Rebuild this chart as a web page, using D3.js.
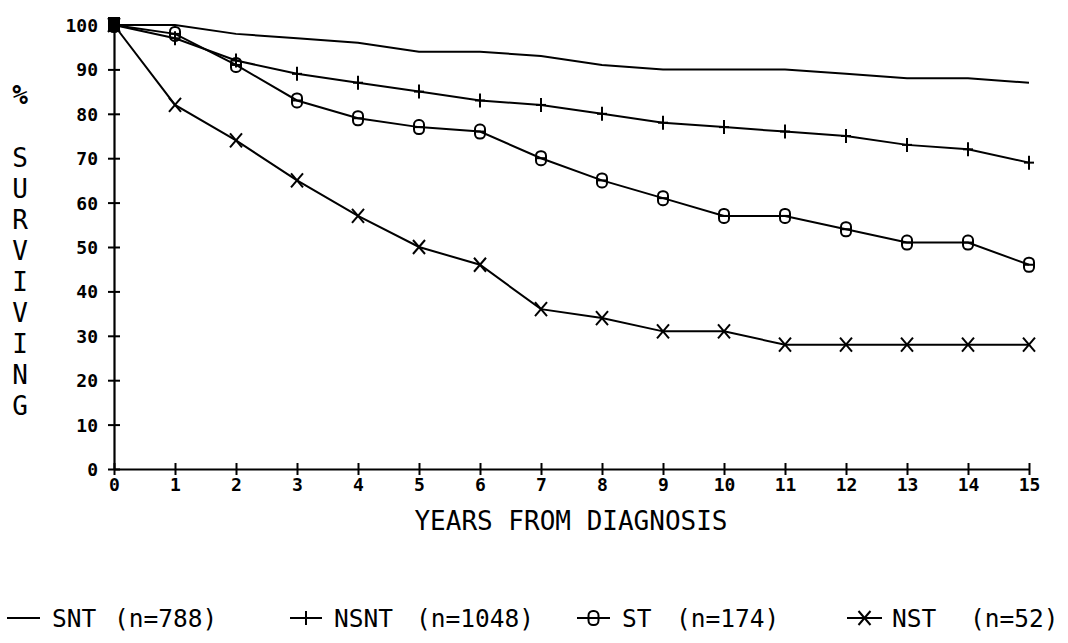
<!DOCTYPE html>
<html>
<head>
<meta charset="utf-8">
<script src="https://cdn.jsdelivr.net/npm/d3@7"></script>
<style>
  body { margin: 0; background: #fff; }
  svg { display: block; }
  .tick text { font-family: "DejaVu Sans Mono", monospace; font-weight: bold; font-size: 18px; fill: #000; }
  .lbl { font-family: "DejaVu Sans Mono", monospace; font-size: 26px; fill: #000; }
  .leg { font-family: "DejaVu Sans Mono", monospace; font-size: 24.5px; fill: #000; }
</style>
</head>
<body>
<div id="chart"></div>
<script>
// years from diagnosis
const years = [0, 1, 2, 3, 4, 5, 6, 7, 8, 9, 10, 11, 12, 13, 14, 15];
// % surviving per group
const snt  = [100, 100, 98, 97, 96, 94, 94, 93, 91, 90, 90, 90, 89, 88, 88, 87];
const nsnt = [100, 97, 92, 89, 87, 85, 83, 82, 80, 78, 77, 76, 75, 73, 72, 69];
const st   = [100, 98, 91, 83, 79, 77, 76, 70, 65, 61, 57, 57, 54, 51, 51, 46];
const nst  = [100, 82, 74, 65, 57, 50, 46, 36, 34, 31, 31, 28, 28, 28, 28, 28];
const yTicks = [0, 10, 20, 30, 40, 50, 60, 70, 80, 90, 100];
const seriesNames = ["SNT", "NSNT", "ST", "NST"];
const seriesN = ["(n=788)", "(n=1048)", "(n=174)", "(n=52)"];
const yLetters = ["S", "U", "R", "V", "I", "V", "I", "N", "G"];

const w = 1068, h = 643;
const svg = d3.select("#chart").append("svg").attr("width", w).attr("height", h);

const x = d3.scaleLinear().domain([0, 15]).range([114, 1029]);
const y = d3.scaleLinear().domain([0, 100]).range([469, 25]);

// axes
const xAxis = d3.axisBottom(x).tickValues(years).tickFormat(d3.format("d")).tickSizeOuter(0);
const gx = svg.append("g").attr("transform", "translate(0," + y(0) + ")").call(xAxis);
gx.select(".domain").attr("stroke", "#000").attr("stroke-width", 2.2);
gx.selectAll(".tick line").attr("y1", -6).attr("y2", 6).attr("stroke-width", 2);
gx.selectAll(".tick text").attr("y", 22).attr("dy", 0);

const yAxis = d3.axisLeft(y).tickValues(yTicks).tickSizeOuter(0);
const gy = svg.append("g").attr("transform", "translate(" + x(0) + ",0)").call(yAxis);
gy.select(".domain").attr("stroke", "#000").attr("stroke-width", 2.2);
gy.selectAll(".tick line").attr("x1", -6).attr("x2", 6).attr("stroke-width", 2);
gy.selectAll(".tick text").attr("x", -16).attr("dy", "0.36em");

// axis titles
svg.append("text").attr("class", "lbl").attr("x", 571).attr("y", 530)
   .attr("text-anchor", "middle").text("YEARS FROM DIAGNOSIS");
svg.append("text").attr("class", "lbl").attr("x", 20).attr("y", 95).attr("dy", "0.36em")
   .attr("text-anchor", "middle").style("font-weight", "bold").style("font-size", "26px").text("%");
svg.selectAll(".ylet").data(yLetters).enter().append("text")
   .attr("class", "lbl ylet").attr("x", 20).attr("y", (d, i) => 158 + i * 30.9).attr("dy", "0.36em")
   .attr("text-anchor", "middle").text(d => d);

// markers
function marker(g, type, cx, cy) {
  if (type === "plus") {
    g.append("line").attr("x1", cx - 5).attr("x2", cx + 5).attr("y1", cy).attr("y2", cy);
    g.append("line").attr("x1", cx).attr("x2", cx).attr("y1", cy - 7).attr("y2", cy + 7);
  } else if (type === "circle") {
    g.append("rect").attr("x", cx - 5).attr("y", cy - 7).attr("width", 10).attr("height", 14)
     .attr("rx", 4.5).attr("ry", 4.5).attr("fill", "none");
    g.append("line").attr("x1", cx - 5).attr("x2", cx + 5).attr("y1", cy).attr("y2", cy);
  } else if (type === "cross") {
    g.append("line").attr("x1", cx - 6).attr("x2", cx + 6).attr("y1", cy - 7).attr("y2", cy + 7);
    g.append("line").attr("x1", cx - 6).attr("x2", cx + 6).attr("y1", cy + 7).attr("y2", cy - 7);
  }
}

const series = [
  { vals: snt, mk: null },
  { vals: nsnt, mk: "plus" },
  { vals: st, mk: "circle" },
  { vals: nst, mk: "cross" }
];

const line = d3.line().x((d, i) => x(years[i])).y(d => y(d));
const plot = svg.append("g").attr("stroke", "#000").attr("stroke-width", 2).attr("fill", "none");
series.forEach(s => {
  plot.append("path").attr("d", line(s.vals));
  if (s.mk) {
    const mg = plot.append("g");
    s.vals.forEach((v, i) => marker(mg, s.mk, x(years[i]), y(v)));
  }
});
// overlapping markers at the origin form a solid block
plot.append("rect").attr("x", x(0) - 5).attr("y", y(100) - 7).attr("width", 10).attr("height", 13)
    .attr("fill", "#000");

// legend
const legX = [7, 290, 577, 847];
const legLineW = [33, 32, 33, 35];
const legNameX = [52, 334, 622, 892];
const legNX = [114, 416, 676, 970];
const legY = 618;
const leg = svg.append("g");
series.forEach((s, i) => {
  const lg = leg.append("g").attr("stroke", "#000").attr("stroke-width", 2).attr("fill", "none");
  lg.append("line").attr("x1", legX[i]).attr("x2", legX[i] + legLineW[i]).attr("y1", legY).attr("y2", legY);
  if (s.mk) marker(lg, s.mk, legX[i] + legLineW[i] / 2, legY);
  leg.append("text").attr("class", "leg").attr("x", legNameX[i]).attr("y", legY).attr("dy", "0.36em")
     .text(seriesNames[i]);
  leg.append("text").attr("class", "leg").attr("x", legNX[i]).attr("y", legY).attr("dy", "0.36em")
     .text(seriesN[i]);
});
</script>
</body>
</html>
